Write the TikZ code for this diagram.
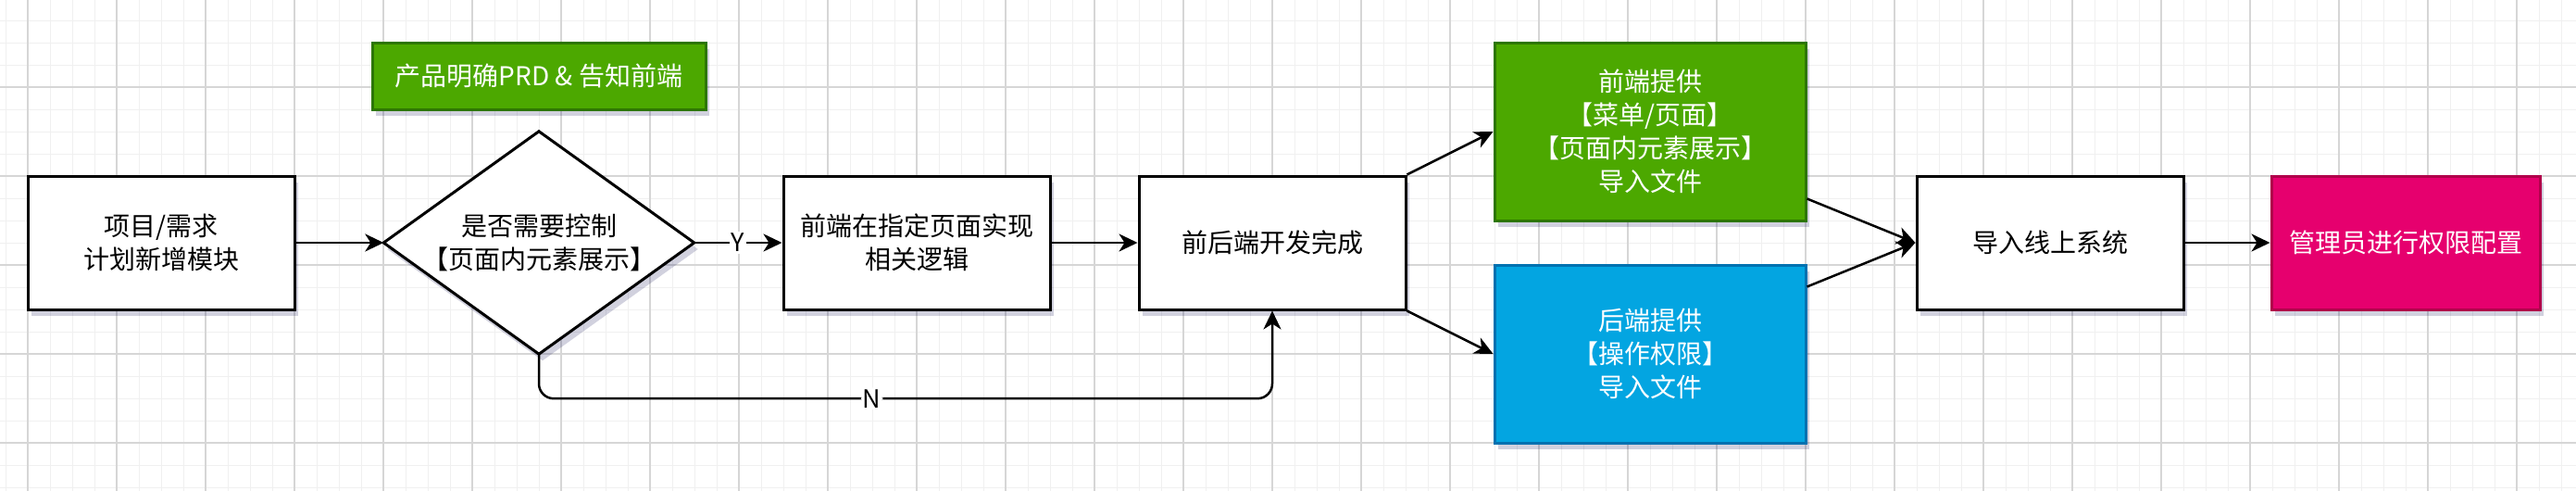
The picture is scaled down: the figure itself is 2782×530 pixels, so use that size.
\documentclass[tikz,border=0pt]{standalone}
\usepackage{fontspec}
\setmainfont{Noto Sans CJK SC}
\usetikzlibrary{arrows.meta, shadows}

\definecolor{fegreen}{HTML}{4CA800}
\definecolor{fegreenline}{HTML}{2D7600}
\definecolor{beblue}{HTML}{03A5E1}
\definecolor{beblueline}{HTML}{0071B0}
\definecolor{adminpink}{HTML}{E6006E}
\definecolor{adminpinkline}{HTML}{B0004A}
\colorlet{gridmajor}{black!16}
\colorlet{gridminor}{black!6}
\colorlet{shade}{blue!30!black}

\begin{document}
\begin{tikzpicture}[x=1pt, y=-1pt,
  every node/.style={font=\fontsize{28}{36}\selectfont, align=center},
  shady/.style={drop shadow={shadow xshift=4pt, shadow yshift=-7pt, fill=shade, opacity=0.18}},
  box/.style={rectangle, draw=black, line width=3pt, fill=white, minimum width=288pt, minimum height=144pt, shady},
  colbox/.style={rectangle, line width=3pt, text=white, minimum width=336pt, minimum height=192pt, shady},
  flow/.style={line width=2.5pt, -{Stealth[length=20pt, width=19pt, inset=6pt]}},
  lbl/.style={fill=white, inner sep=2pt, font=\fontsize{27}{27}\selectfont}]
  \useasboundingbox (0, 0) rectangle (2782, 530);
  % grid
  \begin{scope}
    \clip (0, 0) rectangle (2782, 530);
    \fill[white] (0, 0) rectangle (2782, 530);
    \begin{scope}[shift={(30, 94)}]
      \draw[gridminor, line width=1pt, step=24pt] (-60, -120) grid (2800, 480);
      \draw[gridmajor, line width=1.3pt, step=96pt] (-60, -120) grid (2800, 480);
    \end{scope}
  \end{scope}
  % nodes
  \draw (174, 262)  node[box] (req) {项目/需求\\计划新增模块};
  \draw (582, 82)   node[rectangle, draw=fegreenline, line width=3pt, fill=fegreen, text=white, minimum width=360pt, minimum height=72pt, shady] (prd) {产品明确PRD \& 告知前端};
  \draw (582, 262)  node[rectangle, minimum width=335pt, minimum height=240pt, inner sep=0pt] (ask) {};
  \draw[line width=3pt, fill=white, line join=miter, shady] (ask.north) -- (ask.east) -- (ask.south) -- (ask.west) -- cycle;
  \draw (ask.center) node {是否需要控制\\【页面内元素展示】};
  \draw (990, 262)  node[box] (fe) {前端在指定页面实现\\相关逻辑};
  \draw (1374, 262) node[box] (done) {前后端开发完成};
  \draw (1782, 142) node[colbox, draw=fegreenline, fill=fegreen] (fefile) {前端提供\\【菜单/页面】\\【页面内元素展示】\\导入文件};
  \draw (1782, 382) node[colbox, draw=beblueline, fill=beblue] (befile) {后端提供\\【操作权限】\\导入文件};
  \draw (2214, 262) node[box] (imp) {导入线上系统};
  \draw (2598, 262) node[box, draw=adminpinkline, fill=adminpink, text=white, minimum width=290pt] (admin) {管理员进行权限配置};
  % edges
  \draw[flow] (req) -- (ask.west);
  \draw[flow] (ask.east) -- node[lbl] {Y} (fe);
  \draw[flow] (fe) -- (done);
  \draw[flow, rounded corners=16pt] (ask.south) -- ++(0, 48) -| node[lbl, pos=0.227] {N} (done.south);
  \draw[flow] (done.north east) -- (fefile.west);
  \draw[flow] (done.south east) -- (befile.west);
  \draw[flow] ([yshift=25pt]fefile.south east) -- (imp.west);
  \draw[flow] ([yshift=-25pt]befile.north east) -- (imp.west);
  \draw[flow] (imp) -- (admin);
\end{tikzpicture}
\end{document}
